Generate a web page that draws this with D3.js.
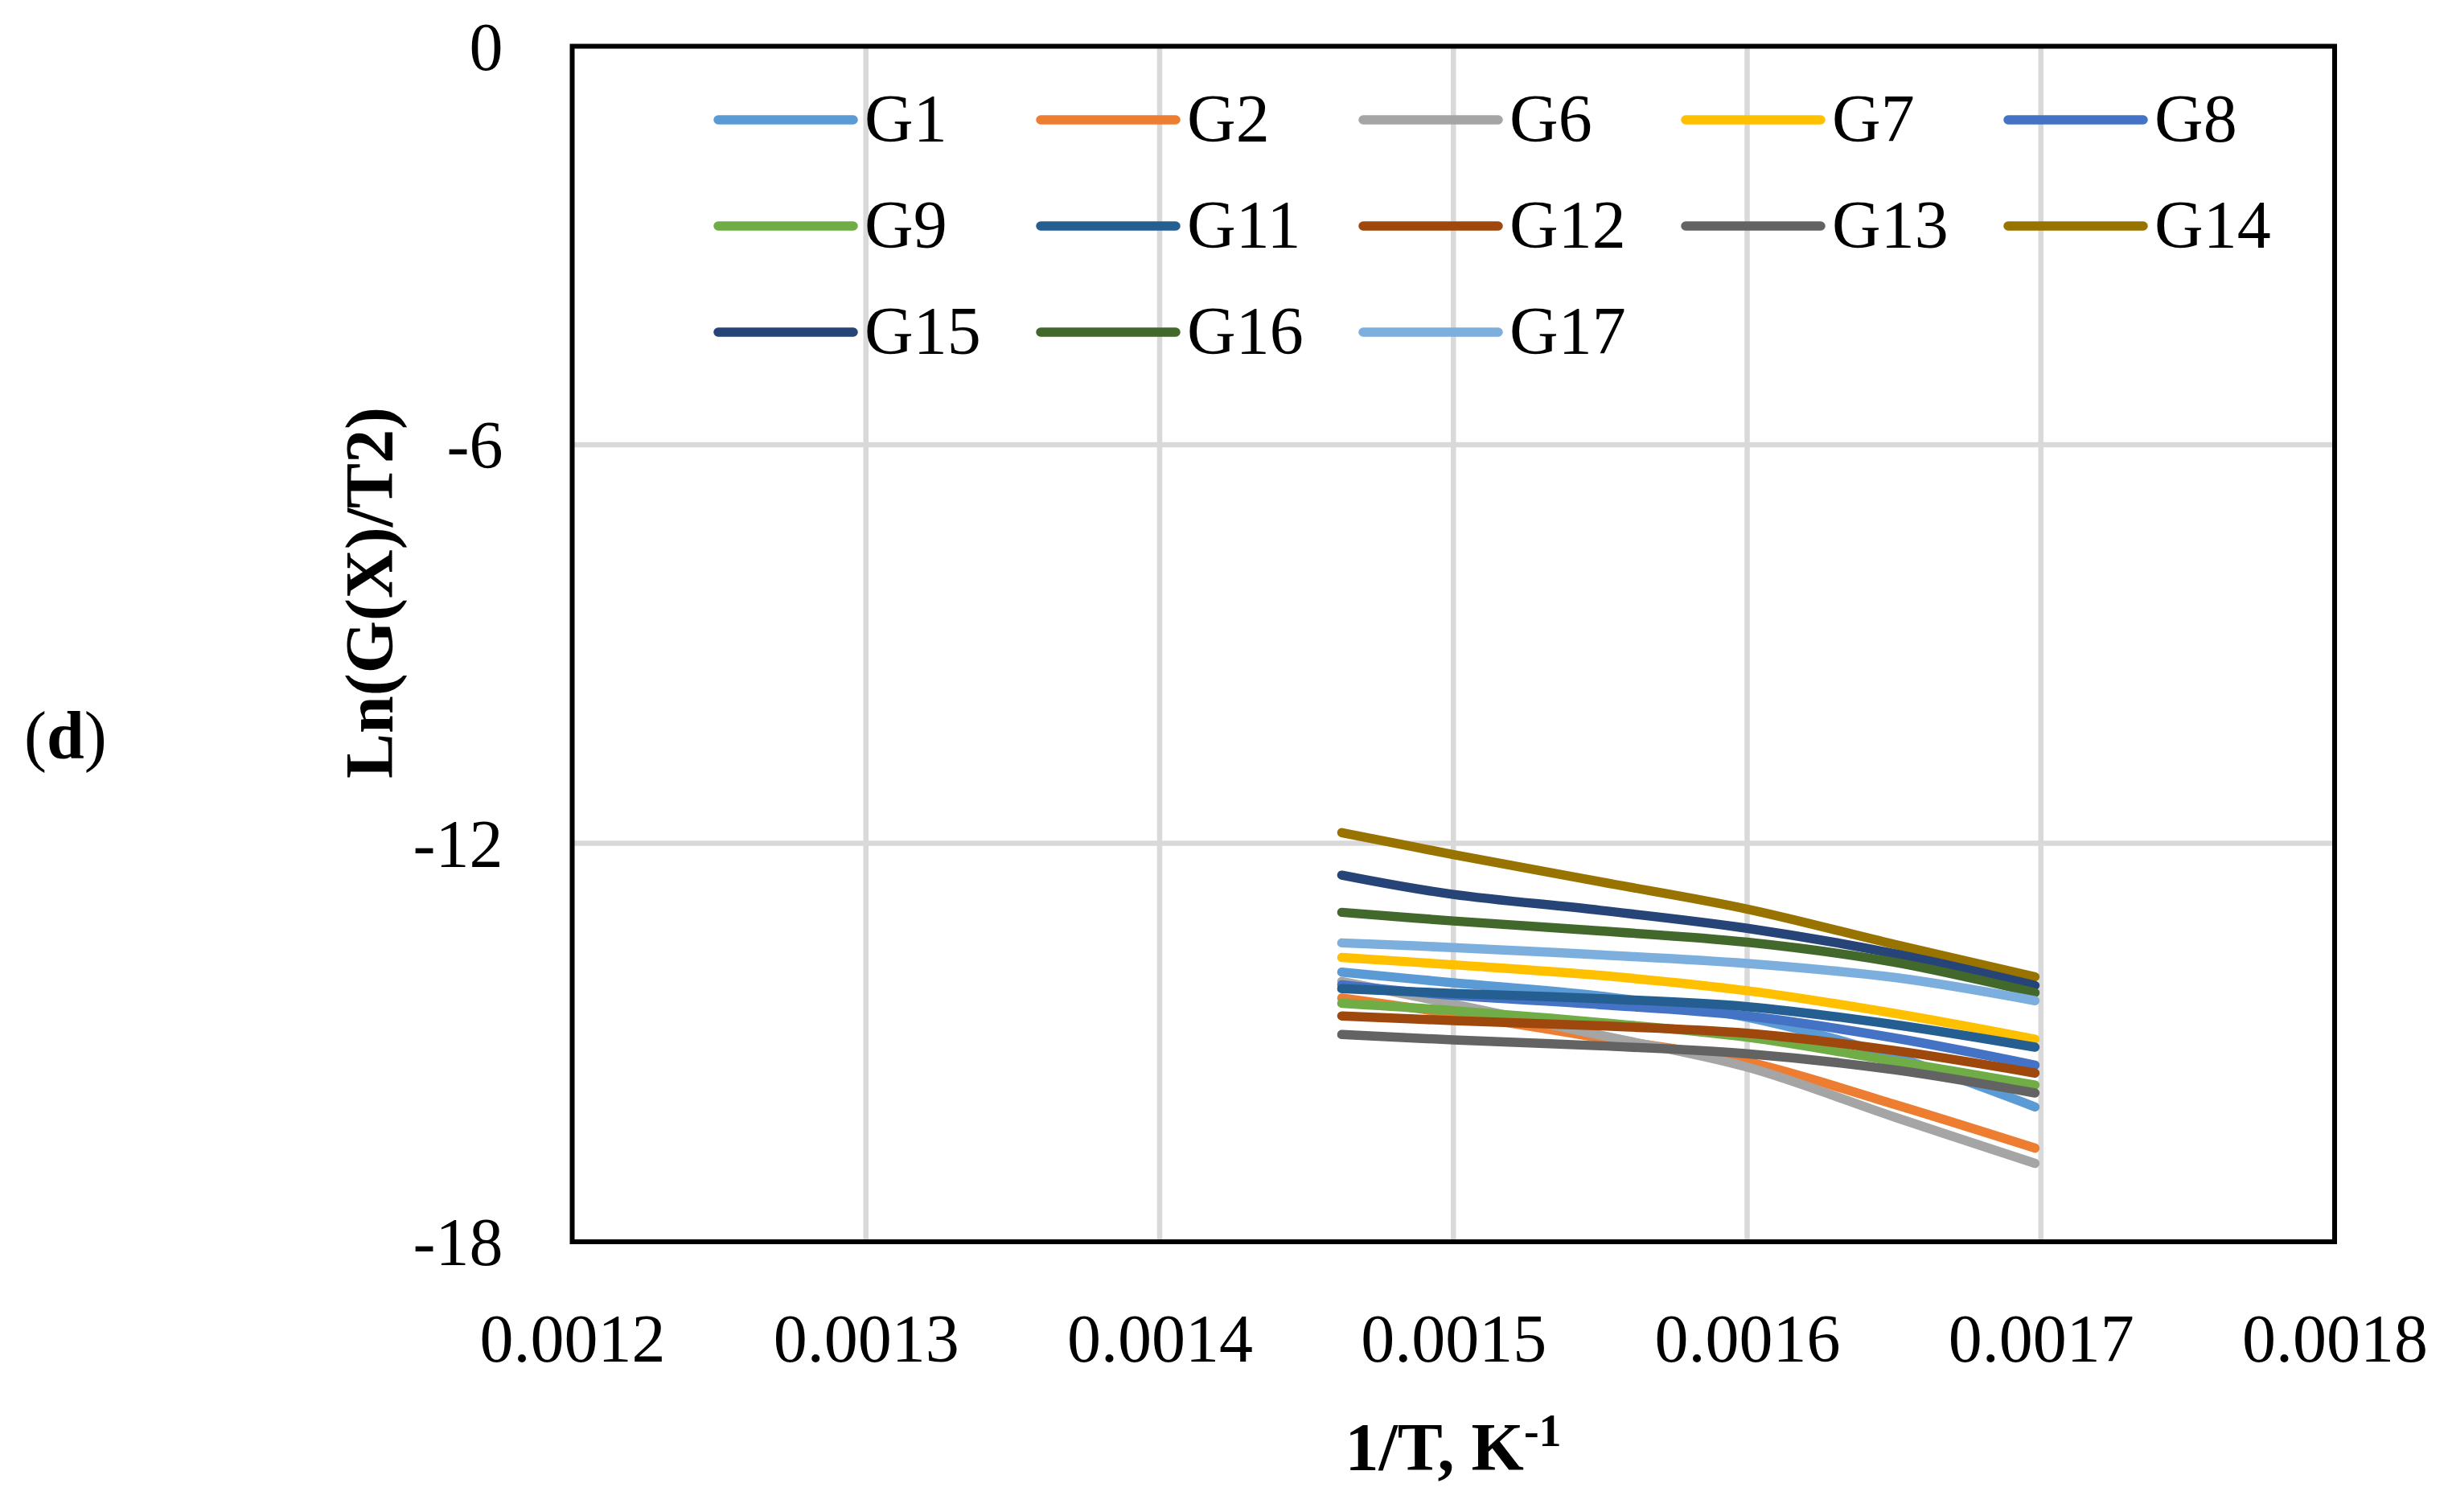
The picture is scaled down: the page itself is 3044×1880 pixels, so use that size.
<!DOCTYPE html>
<html>
<head>
<meta charset="utf-8">
<script src="https://cdn.jsdelivr.net/npm/d3@7"></script>
<style>
  html, body { margin: 0; padding: 0; background: #fff; }
  svg { display: block; }
  text { font-family: "Palatino Linotype", "Book Antiqua", Palatino, "Liberation Serif", serif; fill: #000; }
</style>
</head>
<body>
<svg id="chart" width="3044" height="1880"></svg>
<script>
// ---- data ----
const xValues = [0.001462, 0.0015, 0.00155, 0.0016, 0.00165, 0.001698];
const seriesNames = ["G1","G2","G6","G7","G8","G9","G11","G12","G13","G14","G15","G16","G17"];
const seriesColors = ["#5B9BD5","#ED7D31","#A5A5A5","#FFC000","#4472C4","#70AD47","#255E91","#9E480E","#636363","#997300","#264478","#43682B","#7CAFDD"];
const G1  = [-13.94, -14.10, -14.30, -14.62, -15.21, -15.97];
const G2  = [-14.33, -14.57, -14.93, -15.29, -15.93, -16.59];
const G6  = [-14.08, -14.42, -14.89, -15.37, -16.12, -16.82];
const G7  = [-13.72, -13.83, -13.99, -14.22, -14.56, -14.95];
const G8  = [-14.13, -14.29, -14.43, -14.60, -14.93, -15.34];
const G9  = [-14.41, -14.52, -14.70, -14.92, -15.28, -15.64];
const G11 = [-14.19, -14.26, -14.34, -14.46, -14.73, -15.07];
const G12 = [-14.60, -14.67, -14.75, -14.86, -15.12, -15.46];
const G13 = [-14.88, -14.96, -15.05, -15.17, -15.41, -15.76];
const G14 = [-11.84, -12.17, -12.58, -12.99, -13.52, -14.01];
const G15 = [-12.48, -12.77, -13.01, -13.28, -13.66, -14.14];
const G16 = [-13.04, -13.17, -13.32, -13.49, -13.79, -14.25];
const G17 = [-13.50, -13.57, -13.68, -13.81, -14.02, -14.37];
const seriesValues = [G1,G2,G6,G7,G8,G9,G11,G12,G13,G14,G15,G16,G17];
const xTicks = [0.0012, 0.0013, 0.0014, 0.0015, 0.0016, 0.0017, 0.0018];
const yTicks = [0, -6, -12, -18];
const xTitle = "1/T, K";
const xTitleSup = "-1";
const yTitle = "Ln(G(X)/T2)";
const panelLabel = "d";

// ---- layout ----
const L = 711.5, R = 2903, T = 57.5, B = 1544;
const FS = 84;
const svg = d3.select("#chart");
svg.append("rect").attr("width", 3044).attr("height", 1880).attr("fill", "#fff");

const x = d3.scaleLinear().domain([0.0012, 0.0018]).range([L, R]);
const y = d3.scaleLinear().domain([-18, 0]).range([B, T]);

// gridlines
const grid = svg.append("g");
grid.selectAll("line.h").data(yTicks.filter(d => d !== 0 && d !== -18)).join("line")
  .attr("x1", L).attr("x2", R).attr("y1", d => y(d)).attr("y2", d => y(d))
  .attr("stroke", "#D9D9D9").attr("stroke-width", 6.5);
grid.selectAll("line.v").data(xTicks.filter(d => d > 0.00121 && d < 0.00179)).join("line")
  .attr("y1", T).attr("y2", B).attr("x1", d => x(d)).attr("x2", d => x(d))
  .attr("stroke", "#D9D9D9").attr("stroke-width", 6.5);

// axes (labels only)
const yAxis = svg.append("g").attr("transform", `translate(${L},0)`)
  .call(d3.axisLeft(y).tickValues(yTicks).tickSize(0).tickPadding(86).tickFormat(d => String(d)));
yAxis.select(".domain").remove();
yAxis.selectAll("text").attr("font-size", FS).attr("font-family", null).attr("dy", "0.34em");

const xAxis = svg.append("g").attr("transform", `translate(0,${B})`)
  .call(d3.axisBottom(x).tickValues(xTicks).tickSize(0).tickPadding(89).tickFormat(d3.format(".4f")));
xAxis.select(".domain").remove();
xAxis.selectAll("text").attr("font-size", FS).attr("font-family", null);

// series lines (Excel-style smoothed)
const line = d3.line().x((d, i) => x(xValues[i])).y(d => y(d)).curve(d3.curveCardinal.tension(0));
svg.append("g").selectAll("path").data(seriesValues).join("path")
  .attr("d", d => line(d))
  .attr("fill", "none")
  .attr("stroke", (d, i) => seriesColors[i])
  .attr("stroke-width", 11.5)
  .attr("stroke-linecap", "round")
  .attr("stroke-linejoin", "round");

// plot border
svg.append("rect").attr("x", L).attr("y", T).attr("width", R - L).attr("height", B - T)
  .attr("fill", "none").attr("stroke", "#000").attr("stroke-width", 6);

// legend
const legX0 = 893, legDX = 401, legY0 = 149, legDY = 132, legLen = 168;
const leg = svg.append("g").selectAll("g").data(seriesNames).join("g")
  .attr("transform", (d, i) => `translate(${legX0 + (i % 5) * legDX},${legY0 + Math.floor(i / 5) * legDY})`);
leg.append("line").attr("x1", 0).attr("x2", legLen).attr("y1", 0).attr("y2", 0)
  .attr("stroke", (d, i) => seriesColors[i]).attr("stroke-width", 11.5).attr("stroke-linecap", "round");
leg.append("text").attr("x", legLen + 14).attr("y", 27).attr("font-size", FS).text(d => d);

// axis titles
const xt = svg.append("text").attr("x", 1807).attr("y", 1828).attr("text-anchor", "middle")
  .attr("font-size", FS).attr("font-weight", "bold");
xt.append("tspan").text(xTitle);
xt.append("tspan").attr("font-size", 56).attr("dy", -30).text(xTitleSup);

svg.append("text").attr("transform", "translate(488,737) rotate(-90)")
  .attr("text-anchor", "middle").attr("font-size", FS).attr("font-weight", "bold").text(yTitle);

// panel label
const pl = svg.append("text").attr("x", 30).attr("y", 943).attr("font-size", FS);
pl.append("tspan").text("(");
pl.append("tspan").attr("font-weight", "bold").text(panelLabel);
pl.append("tspan").text(")");
</script>
</body>
</html>
